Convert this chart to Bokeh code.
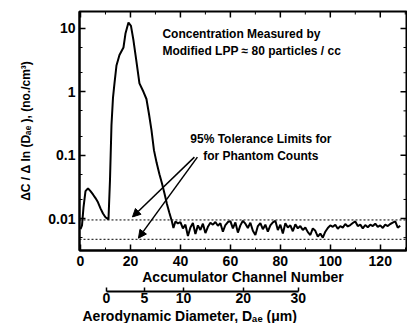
import math
from bokeh.plotting import figure
from bokeh.layouts import column
from bokeh.models import (LinearAxis, LogAxis, FixedTicker, NumeralTickFormatter, Span,
                          Label, Arrow, NormalHead, Range1d, Title)
from bokeh.embed import file_html
from bokeh.resources import INLINE

# ---- data ----
peak_channel = [0, 0.6, 1.2, 2, 3, 4, 5, 6, 7, 8, 9, 10, 11.2, 11.8, 12.4, 13, 13.6, 14.4,
                15.6, 17.2, 18, 19.2, 20.2, 21.2, 22.4, 23.6, 25.2, 26.4, 27.4, 28.4, 29.4,
                30.5, 31.6, 32.6, 33.6, 34.6, 35.6, 36.6, 37.2]
peak_conc = [0.0068, 0.0078, 0.015, 0.027, 0.030, 0.027, 0.024, 0.021, 0.018, 0.0145, 0.012,
             0.0105, 0.0097, 0.04, 0.3, 0.8, 1.36, 2.6, 3.8, 5.0, 8.3, 12.4, 11.0, 6.5, 3.0,
             1.36, 1.0, 0.77, 0.45, 0.25, 0.12, 0.075, 0.05, 0.036, 0.025, 0.017, 0.0122,
             0.009, 0.0071]
noise_channel = list(range(38, 129))
noise_conc = [0.0090, 0.0084, 0.0088, 0.0070, 0.0080, 0.0053, 0.0072, 0.0085, 0.0057, 0.0078,
              0.0066, 0.0083, 0.0059, 0.0074, 0.0086, 0.0080, 0.0088, 0.0077, 0.0084, 0.0062,
              0.0079, 0.0088, 0.0091, 0.0070, 0.0087, 0.0060, 0.0078, 0.0092, 0.0083, 0.0071,
              0.0086, 0.0064, 0.0055, 0.0076, 0.0085, 0.0068, 0.0080, 0.0062, 0.0078, 0.0087,
              0.0092, 0.0066, 0.0080, 0.0058, 0.0084, 0.0072, 0.0078, 0.0063, 0.0081, 0.0070,
              0.0076, 0.0066, 0.0072, 0.0061, 0.0055, 0.0070, 0.0064, 0.0052, 0.0058, 0.0050,
              0.0062, 0.0071, 0.0078, 0.0074, 0.0080, 0.0069, 0.0076, 0.0072, 0.0082, 0.0075,
              0.0079, 0.0085, 0.0090, 0.0076, 0.0080, 0.0070, 0.0079, 0.0073, 0.0080, 0.0076,
              0.0083, 0.0074, 0.0078, 0.0071, 0.0080, 0.0076, 0.0082, 0.0086, 0.0090, 0.0072,
              0.0077]
channel = peak_channel + noise_channel
conc = peak_conc + noise_conc

tol_upper = 0.0095
tol_lower = 0.0047

x_major = [0, 20, 40, 60, 80, 100, 120]
x_minor = [10, 30, 50, 70, 90, 110, 130]
y_major = [0.01, 0.1, 1, 10]
y_minor = [0.005, 0.02, 0.05, 0.2, 0.5, 2, 5]
diam_labels = ["0", "5", "10", "20", "30"]
diam_channel = [10.4, 25.6, 41.2, 65.2, 87.2]

FONT = "Liberation Sans"
X0, X1 = -0.4, 130.5
Y0, Y1 = 0.00313, 18.5

xr = Range1d(X0, X1)
p = figure(frame_width=327, frame_height=239, x_range=xr,
           y_range=Range1d(Y0, Y1), y_axis_type="log", output_backend="svg",
           toolbar_location=None, min_border_left=79, min_border_right=1,
           min_border_top=11, min_border_bottom=0,
           x_axis_location=None, y_axis_location=None)
p.grid.visible = False
p.outline_line_color = "black"
p.outline_line_width = 2
p.background_fill_color = "white"
p.border_fill_color = "white"

def style(ax, size="14px"):
    ax.axis_line_color = "black"
    ax.axis_line_width = 2
    ax.major_tick_in = 6
    ax.major_tick_out = 0
    ax.minor_tick_in = 3
    ax.minor_tick_out = 0
    ax.major_tick_line_width = 1.5
    ax.minor_tick_line_width = 1
    ax.major_label_text_font = FONT
    ax.major_label_text_font_style = "bold"
    ax.major_label_text_color = "black"
    ax.major_label_text_font_size = size
    ax.axis_label_text_font = FONT
    ax.axis_label_text_font_style = "bold"
    ax.axis_label_text_color = "black"

xt = FixedTicker(ticks=x_major, minor_ticks=x_minor)
yt = FixedTicker(ticks=y_major, minor_ticks=y_minor)

xax = LinearAxis(ticker=xt, axis_label="Accumulator Channel Number")
style(xax)
xax.major_label_standoff = 5
xax.axis_label_standoff = 0
xax.axis_label_text_font_size = "14px"
p.add_layout(xax, "below")

yax = LogAxis(ticker=yt, formatter=NumeralTickFormatter(format="0.[00]"),
              axis_label="ΔC / Δ ln (Dₐₑ ), (no./cm³)")
style(yax)
yax.major_label_standoff = 4
yax.axis_label_standoff = 12
yax.axis_label_text_font_size = "12px"
p.add_layout(yax, "left")

# inward ticks on the top and right frame edges (dash markers centred on the edge,
# the outer half is clipped by the frame)
p.scatter(x_major, [Y1] * len(x_major), marker="dash", angle=math.pi / 2, size=12,
          line_color="black", line_width=1.5)
p.scatter(x_minor, [Y1] * len(x_minor), marker="dash", angle=math.pi / 2, size=6,
          line_color="black", line_width=1)
p.scatter([X1] * len(y_major), y_major, marker="dash", size=12,
          line_color="black", line_width=1.5)
p.scatter([X1] * len(y_minor), y_minor, marker="dash", size=6,
          line_color="black", line_width=1)

p.line(channel, conc, line_color="black", line_width=2)

for loc in (tol_upper, tol_lower):
    p.add_layout(Span(location=loc, dimension="width", line_color="black",
                      line_width=1, line_dash="2 2"))

for x0, x1, y1 in ((45.6, 20.8, 0.0106), (46.8, 23.2, 0.0049)):
    p.add_layout(Arrow(end=NormalHead(size=8, fill_color="black", line_color="black"),
                       x_start=x0, y_start=0.093, x_end=x1, y_end=y1,
                       line_color="black", line_width=1.5))

def lab(x, y, t, align="left", size="12px"):
    p.add_layout(Label(x=x, y=y, text=t, text_font=FONT, text_font_style="bold",
                       text_font_size=size, text_baseline="middle", text_align=align,
                       text_color="black"))

lab(32.8, 8.3, "Concentration Measured by")
lab(32.8, 4.35, "Modified LPP  ≈ 80 particles / cc")
lab(72.2, 0.179, "95% Tolerance Limits for", "center")
lab(72.2, 0.0964, "for Phantom Counts", "center")

# ---- secondary scale: aerodynamic diameter, drawn under the channel axis ----
p2 = figure(frame_width=327, frame_height=4, x_range=xr, y_range=Range1d(0, 1),
            output_backend="svg", toolbar_location=None,
            min_border_left=79, min_border_right=1, min_border_top=0, min_border_bottom=0,
            x_axis_location=None, y_axis_location=None)
p2.grid.visible = False
p2.outline_line_color = None
p2.background_fill_color = "white"
p2.border_fill_color = "white"
dax = LinearAxis(ticker=FixedTicker(ticks=diam_channel, minor_ticks=[]),
                 major_label_overrides={c: l for c, l in zip(diam_channel, diam_labels)},
                 bounds=(diam_channel[0], diam_channel[-1]))
style(dax)
dax.major_tick_in = 4
dax.major_label_standoff = 1
p2.add_layout(dax, "below")
p2.add_layout(Title(text="Aerodynamic Diameter, Dₐₑ (μm)", align="left", offset=3,
                    standoff=0, text_font=FONT, text_font_style="bold",
                    text_font_size="14px", text_color="black"), "below")

layout = column(p, p2, spacing=0)
open("out.html", "w").write(file_html(layout, INLINE))
